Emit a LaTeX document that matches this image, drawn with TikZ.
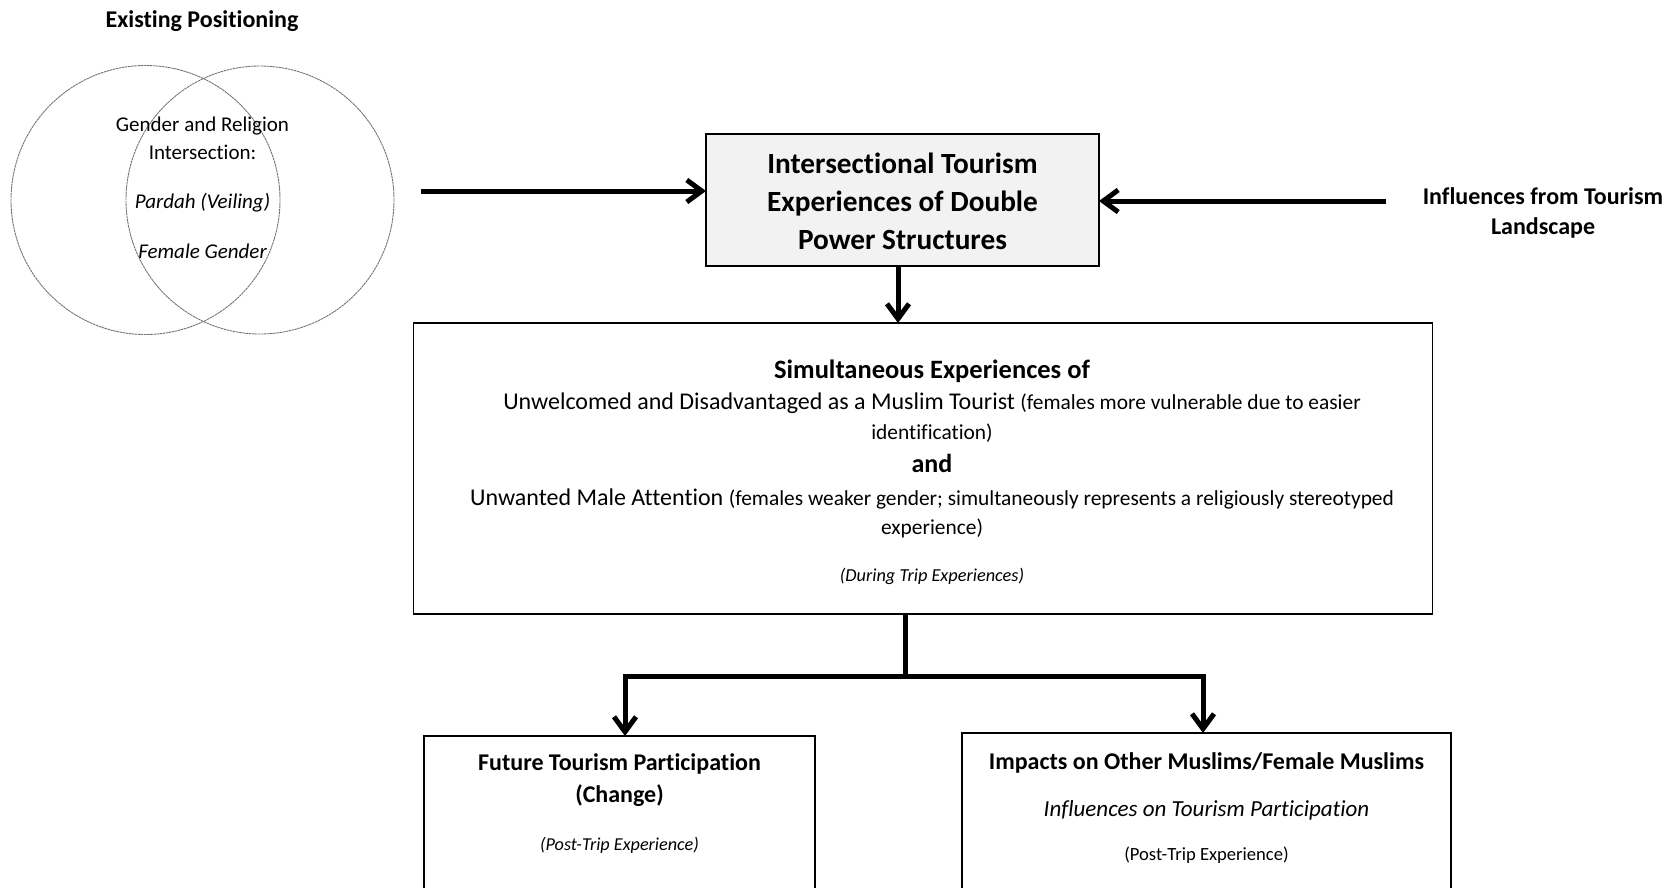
\documentclass[tikz,border=0pt]{standalone}
\usepackage{fontspec}
\setmainfont{Carlito}[RawFeature={-liga;-clig;-calt;-dlig}]
\usetikzlibrary{arrows.meta}
\newcommand\setfs[1]{\fontsize{#1}{1.25\dimexpr #1pt\relax}\selectfont}
\begin{document}
\begin{tikzpicture}[x=1pt,y=-1pt,
  box/.style={draw=black, line width=1.4pt, inner sep=0pt, outer sep=0pt},
  venn/.style={circle, draw=black!55, line width=0.9pt, dash pattern=on 2.5pt off 0.6pt, inner sep=0pt, outer sep=0pt},
  txt/.style={anchor=base, inner sep=0pt, outer sep=0pt, text=black},
  conn/.style={line width=5pt},
  arr/.style={conn, -{Straight Barb[length=15pt,width=22pt]}},
]
\clip (0,0) rectangle (1669,887);

% Venn diagram of the existing positioning
\node[venn, minimum size=269pt] (c1) at (145.5,200) {};
\node[venn, minimum size=268pt] (c2) at (260,200) {};
\node[txt, font={\bfseries\setfs{24}}] (ep) at (202,27.7) {Existing Positioning};
\node[txt, font={\setfs{21}}] (v1) at (202.5,131) {Gender and Religion};
\node[txt, font={\setfs{21}}] (v2) at (202.5,159) {Intersection:};
\node[txt, font={\itshape\setfs{21}}] (v3) at (202.5,208) {Pardah (Veiling)};
\node[txt, font={\itshape\setfs{21}}] (v4) at (202.5,258) {Female Gender};

% central box
\node[box, fill=black!5, minimum width=393pt, minimum height=132pt] (tb) at (902.5,200) {};
\node[txt, font={\bfseries\setfs{29.3}}] (t1) at (902.5,173.4) {Intersectional Tourism};
\node[txt, font={\bfseries\setfs{29.3}}] (t2) at (902.5,211.4) {Experiences of Double};
\node[txt, font={\bfseries\setfs{29.3}}] (t3) at (902.5,249.4) {Power Structures};

% tourism landscape label
\node[txt, font={\bfseries\setfs{24}}] (l1) at (1543,204.7) {Influences from Tourism};
\node[txt, font={\bfseries\setfs{24}}] (l2) at (1543,234.7) {Landscape};

% simultaneous experiences box
\node[box, minimum width=1019pt, minimum height=291pt] (sb) at (923,468.5) {};
\node[txt, font={\bfseries\setfs{26.5}}] (s1) at (932,378.5) {Simultaneous Experiences of};
\node[txt, font={\setfs{24}}] (s2) at (932,409.7) {Unwelcomed and Disadvantaged as a Muslim Tourist {\setfs{21.4}(females more vulnerable due to easier}};
\node[txt, font={\setfs{21.4}}] (s3) at (932,439.5) {identification)};
\node[txt, font={\bfseries\setfs{26}}] (s4) at (932,472) {and};
\node[txt, font={\setfs{24}}] (s5) at (932,505.4) {Unwanted Male Attention {\setfs{21.4}(females weaker gender; simultaneously represents a religiously stereotyped}};
\node[txt, font={\setfs{21.4}}] (s6) at (932,534) {experience)};
\node[txt, font={\itshape\setfs{18.3}}] (s7) at (932,581) {(During Trip Experiences)};

% post-trip boxes
\node[box, minimum width=391pt, minimum height=164pt] (fb) at (619.5,818) {};
\node[txt, font={\bfseries\setfs{24}}] (f1) at (619.5,770) {Future Tourism Participation};
\node[txt, font={\bfseries\setfs{24}}] (f2) at (619.5,802) {(Change)};
\node[txt, font={\itshape\setfs{18.2}}] (f3) at (619.5,850) {(Post-Trip Experience)};

\node[box, minimum width=489pt, minimum height=167pt] (ib) at (1206.5,816.5) {};
\node[txt, font={\bfseries\setfs{24}}] (i1) at (1206.5,769) {Impacts on Other Muslims/Female Muslims};
\node[txt, font={\itshape\setfs{23}}] (i2) at (1206.5,816.5) {Influences on Tourism Participation};
\node[txt, font={\setfs{18.6}}] (i3) at (1206.5,860) {(Post-Trip Experience)};

% connectors
\coordinate (a1) at (421,191);
\coordinate (a2) at (1386,201);
\coordinate (j) at (905,676);
\draw[arr] (a1) -- (a1 -| tb.west);
\draw[arr] (a2) -- (a2 -| tb.east);
\draw[arr] ([xshift=-4.5pt]tb.south) -- ([xshift=-4.5pt]tb.south |- sb.north);
\draw[conn] (j |- sb.south) -- (j);
\draw[arr] (j) -| ([xshift=5.5pt]fb.north);
\draw[arr] (j) -| ([xshift=-3.5pt]ib.north);
\end{tikzpicture}
\end{document}
